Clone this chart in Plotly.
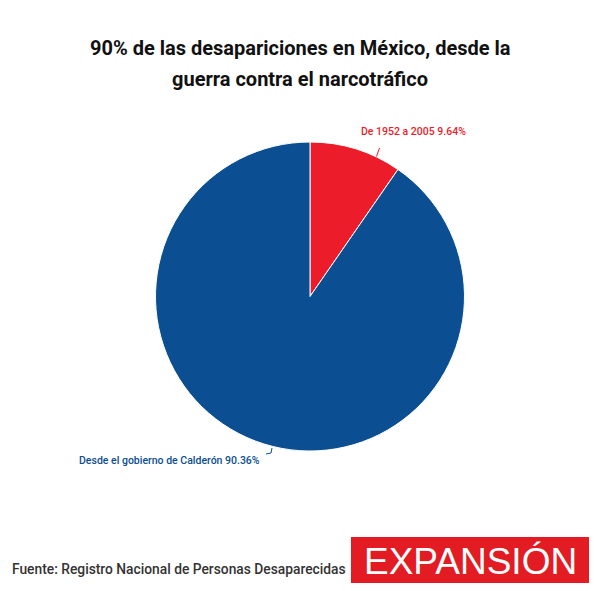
import plotly.graph_objects as go

W, H = 600, 591

labels = ["De 1952 a 2005", "Desde el gobierno de Calderón"]
values = [9.64, 90.36]
colors = ["#EC1C2B", "#0B4E91"]
title_lines = ["90% de las desapariciones en México, desde la", "guerra contra el narcotráfico"]
source = "Fuente: Registro Nacional de Personas Desaparecidas"
logo = "EXPANSIÓN"

def px(x):
    return x / W

def py(y):
    return 1 - y / H

fig = go.Figure(go.Pie(
    labels=labels, values=values, sort=False, direction="clockwise", rotation=0,
    marker=dict(colors=colors, line=dict(color="white", width=1)),
    textinfo="none", hoverinfo="label+percent", showlegend=False,
    domain=dict(x=[px(155.5), px(464.5)], y=[py(451), py(142)]),
))

ann = []
for i, t in enumerate(title_lines):
    ann.append(dict(x=0.5, y=py(48 + 31 * i), xref="paper", yref="paper", text=f"<b>{t}</b>",
                    showarrow=False, xanchor="center", yanchor="middle",
                    font=dict(family="Roboto", size=20, color="#111111")))

# slice labels
ann.append(dict(x=px(359), y=py(131), xref="paper", yref="paper",
                text=f"{labels[0]} {values[0]:.2f}%", showarrow=False,
                xanchor="left", yanchor="middle",
                font=dict(family="Roboto", size=10.5, color=colors[0], weight=500)))
ann.append(dict(x=px(262), y=py(460), xref="paper", yref="paper",
                text=f"{labels[1]} {values[1]:.2f}%", showarrow=False,
                xanchor="right", yanchor="middle",
                font=dict(family="Roboto", size=10.5, color=colors[1], weight=500)))

ann.append(dict(x=px(10), y=py(569), xref="paper", yref="paper", text=source,
                showarrow=False, xanchor="left", yanchor="middle",
                font=dict(family="Roboto", size=13.8, color="#333333", weight=500)))
ann.append(dict(x=px(470), y=py(561), xref="paper", yref="paper", text=logo,
                showarrow=False, xanchor="center", yanchor="middle",
                font=dict(family="Liberation Sans, Arial", size=37, color="white")))

shapes = [
    dict(type="line", xref="paper", yref="paper", x0=px(376.5), y0=py(156.5), x1=px(379.5), y1=py(148),
         line=dict(color=colors[0], width=1)),
    dict(type="line", xref="paper", yref="paper", x0=px(266), y0=py(454), x1=px(271), y1=py(453),
         line=dict(color=colors[1], width=1)),
    dict(type="line", xref="paper", yref="paper", x0=px(271), y0=py(453), x1=px(272), y1=py(448),
         line=dict(color=colors[1], width=1)),
    dict(type="rect", xref="paper", yref="paper", x0=px(351), y0=py(583), x1=px(589), y1=py(537),
         fillcolor="#E31B23", line=dict(width=0), layer="below"),
]

fig.update_layout(
    width=W, height=H, margin=dict(l=0, r=0, t=0, b=0),
    paper_bgcolor="white", plot_bgcolor="white",
    annotations=ann, shapes=shapes,
)
fig.write_html("out.html")
